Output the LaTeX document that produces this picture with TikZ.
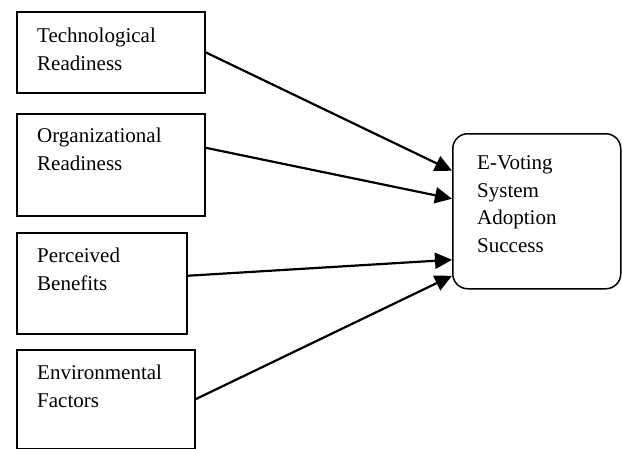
\documentclass[tikz,border=0pt]{standalone}
\usepackage{fontspec}
\setmainfont{Liberation Serif}
\usetikzlibrary{arrows.meta}
\begin{document}
\begin{tikzpicture}[x=1pt,y=-1pt,
  box/.style={draw, line width=1.5pt, rectangle, inner sep=0pt, anchor=north west},
  lbl/.style={anchor=base west, inner sep=0pt, font=\fontsize{21}{27.5}\selectfont, align=left},
  arr/.style={line width=2.2pt, -{Triangle[length=17pt,width=16pt]}}]
\useasboundingbox (0,0) rectangle (622,448);
\node[box, minimum width=188pt, minimum height=81pt] (b1) at (16,11) {};
\node[box, minimum width=188pt, minimum height=102pt] (b2) at (16,113) {};
\node[box, minimum width=170pt, minimum height=101pt] (b3) at (16,232) {};
\node[box, minimum width=178pt, minimum height=99pt] (b4) at (16,349) {};
\node[box, rounded corners=15pt, minimum width=168pt, minimum height=155pt] (e) at (452,133) {};
\node[lbl] (t1) at (37,70) {Technological\\Readiness};
\node[lbl] (t2) at (37,170) {Organizational\\Readiness};
\node[lbl] (t3) at (37,290) {Perceived\\Benefits};
\node[lbl] (t4) at (37,407) {Environmental\\Factors};
\node[lbl] (te) at (477,252) {E-Voting\\System\\Adoption\\Success};
\draw[arr] (b1.east) -- ([yshift=40.5pt]e.west);
\draw[arr] ([yshift=17pt]b2.east) -- ([yshift=12.5pt]e.west);
\draw[arr] ([yshift=7.5pt]b3.east) -- ([yshift=-48.5pt]e.west);
\draw[arr] (b4.east) -- ([yshift=-64.5pt]e.west);
\end{tikzpicture}
\end{document}
